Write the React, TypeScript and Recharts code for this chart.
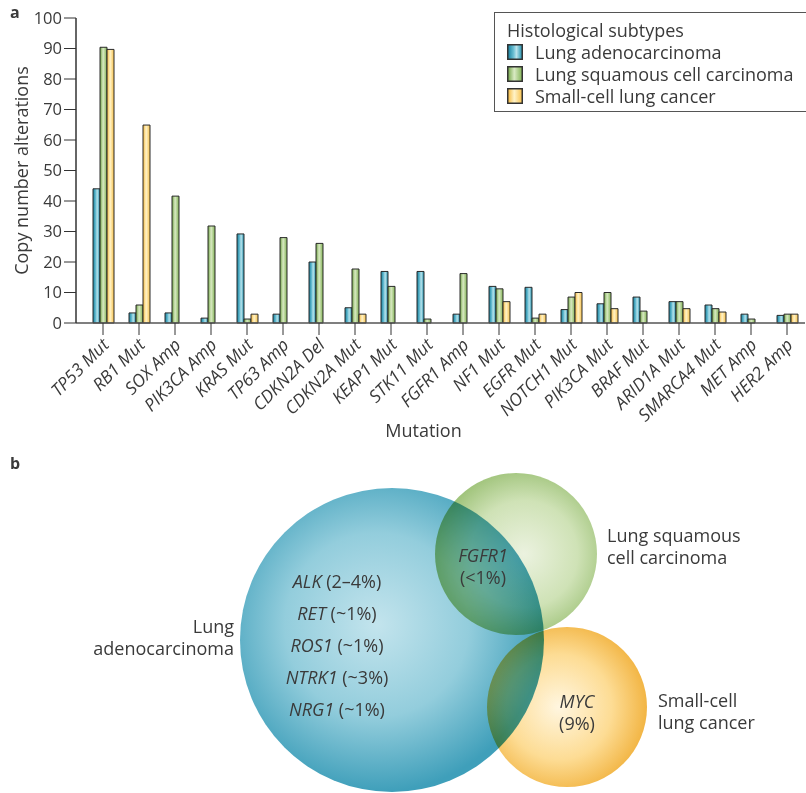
import React from 'react';
import {
  BarChart, Bar, XAxis, YAxis, Legend, Label,
  ScatterChart, Scatter,
} from 'recharts';

// --- panel a data ---
const mutations = [
  'TP53 Mut', 'RB1 Mut', 'SOX Amp', 'PIK3CA Amp', 'KRAS Mut', 'TP63 Amp', 'CDKN2A Del',
  'CDKN2A Mut', 'KEAP1 Mut', 'STK11 Mut', 'FGFR1 Amp', 'NF1 Mut', 'EGFR Mut', 'NOTCH1 Mut',
  'PIK3CA Mut', 'BRAF Mut', 'ARID1A Mut', 'SMARCA4 Mut', 'MET Amp', 'HER2 Amp',
];
const adenocarcinoma = [44, 3.3, 3.3, 1.6, 29.2, 2.9, 20, 5, 16.9, 16.9, 2.9, 12, 11.7, 4.4, 6.3, 8.5, 7, 5.9, 2.9, 2.5];
const squamous = [90.4, 5.9, 41.6, 31.8, 1.3, 28, 26.1, 17.7, 12, 1.3, 16.2, 11.2, 1.6, 8.5, 10, 3.9, 7, 4.7, 1.3, 2.9];
const smallCell = [89.7, 64.9, null, null, 2.9, null, null, 2.9, null, null, null, 7, 2.9, 10, 4.7, null, 4.7, 3.6, null, 2.9];
const yTicks = [0, 10, 20, 30, 40, 50, 60, 70, 80, 90, 100];

const seriesNames = ['Lung adenocarcinoma', 'Lung squamous cell carcinoma', 'Small-cell lung cancer'];

// --- panel b data (Venn) ---
const vennNames = ['Lung adenocarcinoma', 'Lung squamous cell carcinoma', 'Small-cell lung cancer'];
const vennCenterX = [392, 516, 567];
const vennCenterY = [640, 554, 707];
const vennRadius = [152, 81, 80];

const barData = mutations.map((m, i) => ({
  name: m,
  adeno: adenocarcinoma[i],
  squam: squamous[i],
  sclc: smallCell[i],
}));

const vennData = vennNames.map((n, i) => ({
  name: n, x: vennCenterX[i], y: vennCenterY[i], r: vennRadius[i], idx: i,
}));

const FONT = '"Open Sans", "Noto Sans", sans-serif';
const TEXT = '#3a3a3a';
const swatchFill = ['url(#gAdeno)', 'url(#gSquam)', 'url(#gSclc)'];
const vennFill = ['url(#vAdeno)', 'url(#vSquam)', 'url(#vSclc)'];

const XTick = ({ x, y, payload }: any) => (
  <text
    transform={`translate(${x + 7},${y + 9}) rotate(-45)`}
    textAnchor="end"
    fontStyle="italic"
    fontSize={17.5}
    fontFamily={FONT}
    fill={TEXT}
  >
    {payload.value}
  </text>
);

const LegendBox = () => (
  <div style={{
    position: 'absolute', left: 494, top: 12, width: 320, height: 100,
    border: '1.5px solid #555', boxSizing: 'border-box', background: '#fff',
    fontFamily: FONT, fontSize: 18, color: TEXT, paddingTop: 6, paddingLeft: 12,
    lineHeight: '22px',
  }}>
    <div>Histological subtypes</div>
    {seriesNames.map((n, i) => (
      <div key={n} style={{ display: 'flex', alignItems: 'center' }}>
        <svg width={16} height={16} style={{ marginRight: 12 }}>
          <rect x={0.75} y={0.75} width={14.5} height={14.5} fill={swatchFill[i]} stroke="#333" strokeWidth={1.5} />
        </svg>
        <span>{n}</span>
      </div>
    ))}
  </div>
);

const VennCircle = (props: any) => {
  const { cx, cy, payload } = props;
  return (
    <circle
      cx={cx}
      cy={cy}
      r={payload.r}
      fill={vennFill[payload.idx]}
      style={{ mixBlendMode: 'multiply' }}
    />
  );
};

const txt: React.CSSProperties = {
  position: 'absolute', fontFamily: FONT, fontSize: 18, color: TEXT, lineHeight: '22px',
  whiteSpace: 'nowrap',
};

const Gene = ({ g, p }: { g: string; p: string }) => (
  <div><i>{g}</i> {p}</div>
);

export default function App() {
  return (
    <div style={{ position: 'absolute', left: 0, top: 0, width: 806, height: 793, background: '#fff', overflow: 'hidden' }}>
      <div style={{ ...txt, left: 10, top: 1, fontWeight: 700, fontSize: 16 }}>a</div>
      <BarChart
        width={806}
        height={450}
        data={barData}
        margin={{ top: 18, right: 1, left: 0, bottom: 0 }}
        barSize={7}
        barGap={0}
      >
        <defs>
          <linearGradient id="gAdeno" x1="0" y1="0" x2="1" y2="0">
            <stop offset="0%" stopColor="#137f9d" />
            <stop offset="40%" stopColor="#6cbfd3" />
            <stop offset="60%" stopColor="#b9e3ec" />
            <stop offset="100%" stopColor="#1d8eab" />
          </linearGradient>
          <linearGradient id="gSquam" x1="0" y1="0" x2="1" y2="0">
            <stop offset="0%" stopColor="#72a546" />
            <stop offset="45%" stopColor="#d9eac3" />
            <stop offset="100%" stopColor="#82b356" />
          </linearGradient>
          <linearGradient id="gSclc" x1="0" y1="0" x2="1" y2="0">
            <stop offset="0%" stopColor="#f6b93c" />
            <stop offset="45%" stopColor="#fff3c8" />
            <stop offset="100%" stopColor="#f8c24d" />
          </linearGradient>
        </defs>
        <XAxis
          dataKey="name"
          interval={0}
          height={127}
          tick={<XTick />}
          tickSize={12}
          axisLine={{ stroke: '#555', strokeWidth: 1.5 }}
          tickLine={{ stroke: '#333' }}
          padding={{ left: 9, right: 0 }}
        >
          <Label value="Mutation" position="insideBottom" offset={13} dx={-17}
            style={{ fontFamily: FONT, fontSize: 18, fill: TEXT }} />
        </XAxis>
        <YAxis
          width={76}
          domain={[0, 100]}
          ticks={yTicks}
          interval={0}
          tickSize={12}
          axisLine={{ stroke: '#333', strokeWidth: 1.5 }}
          tickLine={{ stroke: '#333' }}
          tick={{ fontFamily: FONT, fontSize: 16.5, fill: TEXT }}
        >
          <Label value="Copy number alterations" angle={-90} position="center" dx={-16}
            style={{ fontFamily: FONT, fontSize: 18, fill: TEXT, textAnchor: 'middle' }} />
        </YAxis>
        <Legend layout="horizontal" verticalAlign="middle" content={() => null} />
        <Bar dataKey="adeno" name={seriesNames[0]} fill="url(#gAdeno)" stroke="#2a2a2a" strokeWidth={1} isAnimationActive={false} />
        <Bar dataKey="squam" name={seriesNames[1]} fill="url(#gSquam)" stroke="#2a2a2a" strokeWidth={1} isAnimationActive={false} />
        <Bar dataKey="sclc" name={seriesNames[2]} fill="url(#gSclc)" stroke="#2a2a2a" strokeWidth={1} isAnimationActive={false} />
      </BarChart>
      <LegendBox />

      <div style={{ ...txt, left: 10, top: 452, fontWeight: 700, fontSize: 16 }}>b</div>
      <div style={{ position: 'absolute', left: 0, top: 440 }}>
        <ScatterChart width={806} height={353} margin={{ top: 0, right: 0, bottom: 0, left: 0 }}>
          <defs>
            <radialGradient id="vAdeno" cx="45%" cy="45%" r="55%">
              <stop offset="0%" stopColor="#c3e4ed" />
              <stop offset="55%" stopColor="#93cddc" />
              <stop offset="100%" stopColor="#3f9fba" />
            </radialGradient>
            <radialGradient id="vSquam" cx="55%" cy="50%" r="55%">
              <stop offset="0%" stopColor="#ebf2df" />
              <stop offset="60%" stopColor="#cfe2b6" />
              <stop offset="100%" stopColor="#9cc176" />
            </radialGradient>
            <radialGradient id="vSclc" cx="45%" cy="50%" r="55%">
              <stop offset="0%" stopColor="#fff6e0" />
              <stop offset="60%" stopColor="#fddc94" />
              <stop offset="100%" stopColor="#f2b544" />
            </radialGradient>
          </defs>
          <XAxis type="number" dataKey="x" domain={[0, 806]} hide />
          <YAxis type="number" dataKey="y" domain={[440, 793]} reversed hide />
          <Scatter data={vennData} shape={<VennCircle />} isAnimationActive={false} />
        </ScatterChart>
      </div>

      <div style={{ ...txt, left: 60, top: 615, width: 174, textAlign: 'right' }}>
        Lung<br />adenocarcinoma
      </div>
      <div style={{ ...txt, left: 607, top: 524 }}>Lung squamous<br />cell carcinoma</div>
      <div style={{ ...txt, left: 658, top: 689 }}>Small-cell<br />lung cancer</div>

      <div style={{ ...txt, left: 237, top: 565, width: 200, textAlign: 'center', lineHeight: '32px' }}>
        <Gene g="ALK" p="(2–4%)" />
        <Gene g="RET" p="(~1%)" />
        <Gene g="ROS1" p="(~1%)" />
        <Gene g="NTRK1" p="(~3%)" />
        <Gene g="NRG1" p="(~1%)" />
      </div>
      <div style={{ ...txt, left: 433, top: 544, width: 100, textAlign: 'center' }}>
        <i>FGFR1</i><br />(&lt;1%)
      </div>
      <div style={{ ...txt, left: 527, top: 690, width: 100, textAlign: 'center' }}>
        <i>MYC</i><br />(9%)
      </div>
    </div>
  );
}
